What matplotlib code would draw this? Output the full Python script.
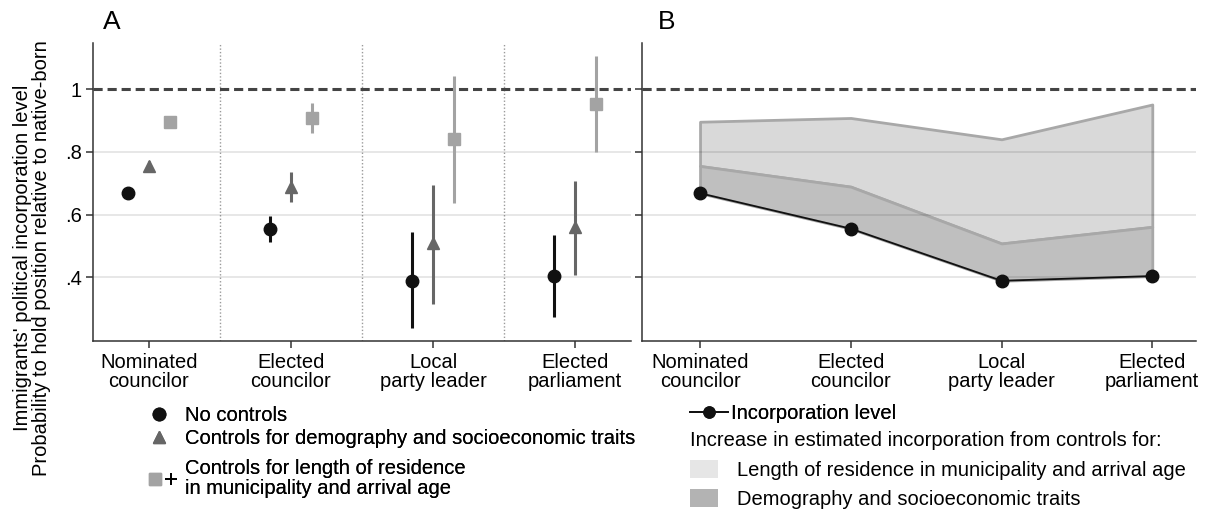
import matplotlib
matplotlib.use("Agg")
import matplotlib.pyplot as plt
import numpy as np
from matplotlib.lines import Line2D
from matplotlib.patches import Patch
from matplotlib.legend_handler import HandlerTuple

plt.rcParams['font.family'] = ['Liberation Sans', 'DejaVu Sans']

# categories (positions on the x axis)
categories = ["Nominated\ncouncilor", "Elected\ncouncilor", "Local\nparty leader", "Elected\nparliament"]

# estimates: point, lower and upper bound
no_ctrl = [0.668, 0.555, 0.389, 0.404]
no_ctrl_lo = [0.660, 0.514, 0.237, 0.272]
no_ctrl_hi = [0.676, 0.597, 0.544, 0.535]

demo = [0.755, 0.689, 0.508, 0.561]
demo_lo = [0.737, 0.640, 0.316, 0.408]
demo_hi = [0.772, 0.735, 0.695, 0.706]

resid = [0.896, 0.908, 0.840, 0.951]
resid_lo = [0.877, 0.859, 0.638, 0.800]
resid_hi = [0.915, 0.956, 1.041, 1.105]

yticks = [0.4, 0.6, 0.8, 1.0]
ytick_labels = [".4", ".6", ".8", "1"]

legend_a = ["No controls",
            "Controls for demography and socioeconomic traits",
            "Controls for length of residence\nin municipality and arrival age"]
legend_b_line = "Incorporation level"
legend_b_title = "Increase in estimated incorporation from controls for:"
legend_b_areas = ["Length of residence in municipality and arrival age",
                  "Demography and socioeconomic traits"]

c_black = "#111111"
c_dark = "#666666"
c_light = "#a3a3a3"
fs = 14.5

fig = plt.figure(figsize=(12.08, 5.09), dpi=100)
axA = fig.add_axes([93 / 1208, 1 - 341 / 509, 538 / 1208, 298 / 509])
axB = fig.add_axes([642 / 1208, 1 - 341 / 509, 554 / 1208, 298 / 509])

x = np.arange(len(categories))


def style_axes(ax):
    for s in ['top', 'right']:
        ax.spines[s].set_visible(False)
    for s in ['left', 'bottom']:
        ax.spines[s].set_color('#333333')
        ax.spines[s].set_linewidth(1.1)
    ax.set_ylim(0.197, 1.147)
    ax.set_yticks(yticks)
    ax.set_xticks(x)
    ax.tick_params(axis='both', length=5, width=1.1, color='#333333', labelsize=fs, pad=3)
    ax.tick_params(axis='x', pad=4)
    for t in [0.4, 0.6, 0.8]:
        ax.axhline(t, color='black', alpha=0.1, lw=1.3, zorder=1.5)
    ax.axhline(1.0, color='#444444', lw=2.2, dashes=(3, 1.6), zorder=2)


# ---- panel A
style_axes(axA)
axA.set_xlim(-0.394, 3.394)
axA.set_yticklabels(ytick_labels)
axA.set_xticklabels(categories, linespacing=0.95)
for sep in [0.5, 1.5, 2.5]:
    axA.axvline(sep, color='#9a9a9a', lw=1.0, ls=(0, (1, 1.5)), zorder=1)

series = [(no_ctrl, no_ctrl_lo, no_ctrl_hi, -0.15, 'o', c_black, 9),
          (demo, demo_lo, demo_hi, 0.0, '^', c_dark, 9),
          (resid, resid_lo, resid_hi, 0.15, 's', c_light, 8)]
for vals, lo, hi, off, mk, col, ms in series:
    vals = np.array(vals)
    err = [vals - np.array(lo), np.array(hi) - vals]
    axA.errorbar(x + off, vals, yerr=err, fmt=mk, color=col, ms=ms,
                 elinewidth=2.2, capsize=0, zorder=3)

# ---- panel B
style_axes(axB)
axB.set_xlim(-0.385, 3.29)
axB.set_yticklabels([])
axB.set_xticklabels(categories, linespacing=0.95)
axB.fill_between(x, demo, resid, facecolor='#d9d9d9', edgecolor='#a8a8a8', lw=2, zorder=1)
axB.fill_between(x, no_ctrl, demo, facecolor='#bfbfbf', edgecolor='#a8a8a8', lw=2, zorder=1.2)
axB.plot(x, no_ctrl, color=c_black, lw=1.3, marker='o', ms=9, zorder=3)

# ---- panel letters and y label
fig.text(103 / 1208, 1 - 22 / 509, "A", fontsize=19, va='center', ha='left')
fig.text(658 / 1208, 1 - 22 / 509, "B", fontsize=19, va='center', ha='left')
fig.text(32 / 1208, 1 - 258 / 509,
         "Immigrants' political incorporation level\nProbability to hold position relative to native-born",
         rotation=90, ha='center', va='center', fontsize=fs, linespacing=0.98)

# ---- legend A (two parts so the two-line entry sits where it does in the source)
hA1 = [Line2D([], [], ls='none', marker='o', color=c_black, ms=9),
       Line2D([], [], ls='none', marker='^', color=c_dark, ms=9)]
legA1 = fig.legend(hA1, legend_a[:2], loc='upper left', bbox_to_anchor=(146 / 1208, 1 - 406 / 509),
                   frameon=False, fontsize=fs, handlelength=1.3, handletextpad=0.65,
                   labelspacing=0.22, borderpad=0, borderaxespad=0)
hA2 = [(Line2D([], [], ls='none', marker='s', color=c_light, ms=8),
        Line2D([], [], ls='none', marker='+', color='black', ms=8, mew=1.3))]
legA2 = fig.legend(hA2, legend_a[2:], loc='upper left', bbox_to_anchor=(150 / 1208, 1 - 459 / 509),
                   frameon=False, fontsize=fs, handlelength=1.3, handletextpad=0.45,
                   borderpad=0, borderaxespad=0,
                   handler_map={tuple: HandlerTuple(ndivide=None, pad=0.25)})
for t in legA2.get_texts():
    t.set_linespacing(1.05)

# ---- legend B
hB1 = [Line2D([], [], color=c_black, lw=1.3, marker='o', ms=8)]
legB1 = fig.legend(hB1, [legend_b_line], loc='upper left', bbox_to_anchor=(690 / 1208, 1 - 404 / 509),
                   frameon=False, fontsize=fs, handlelength=1.9, handletextpad=0.15,
                   borderpad=0, borderaxespad=0)
hB2 = [Patch(facecolor='#e6e6e6', edgecolor='none'),
       Patch(facecolor='#b3b3b3', edgecolor='none')]
legB2 = fig.legend(hB2, legend_b_areas, loc='upper left', bbox_to_anchor=(690 / 1208, 1 - 431 / 509),
                   frameon=False, fontsize=fs, handlelength=1.4, handleheight=1.0,
                   handletextpad=0.95, labelspacing=0.48, borderpad=0, borderaxespad=0,
                   title=legend_b_title, title_fontsize=fs, alignment='left')
fig.add_artist(legA1)
fig.add_artist(legA2)
fig.add_artist(legB1)

fig.savefig("out.png", dpi=100)
